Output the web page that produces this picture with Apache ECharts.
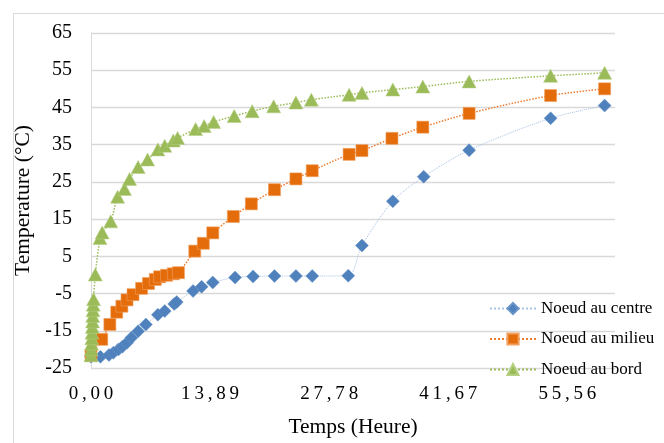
<!DOCTYPE html>
<html>
<head>
<meta charset="utf-8">
<script src="https://cdn.jsdelivr.net/npm/echarts@6/dist/echarts.min.js"></script>
<style>
  html, body { margin: 0; padding: 0; background: #ffffff; }
  #chart { width: 664px; height: 443px; }
</style>
</head>
<body>
<div id="chart"></div>
<script>
// Temps en heures, températures en °C
const centreTemps = [0, 1.1, 2.1, 2.6, 3.2, 3.65, 4.2, 4.7, 5.5, 6.4, 7.8, 8.6, 9.7, 10.0, 11.9, 12.9, 14.2, 16.8, 18.9, 21.4, 23.9, 25.8, 30.0, 31.6, 35.2, 38.8, 44.1, 53.6, 59.9];
const centreValeurs = [-22.0, -22.0, -21.5, -20.9, -20.0, -19.3, -18.2, -16.9, -15.1, -13.3, -10.7, -9.7, -7.8, -7.3, -4.3, -3.2, -2.0, -0.7, -0.4, -0.3, -0.3, -0.3, -0.2, 7.9, 19.8, 26.4, 33.5, 42.1, 45.5];

const milieuTemps = [0, 1.25, 2.2, 3.0, 3.6, 4.2, 4.9, 5.9, 6.7, 7.5, 8.0, 8.8, 9.6, 10.2, 12.1, 13.1, 14.2, 16.6, 18.7, 21.4, 23.9, 25.8, 30.1, 31.6, 35.1, 38.7, 44.1, 53.6, 59.9];
const milieuValeurs = [-21.6, -17.3, -13.3, -10.0, -8.4, -6.7, -5.3, -3.6, -2.3, -1.2, -0.5, -0.1, 0.3, 0.6, 6.4, 8.5, 11.3, 15.7, 19.1, 22.9, 25.8, 28.0, 32.4, 33.4, 36.7, 39.7, 43.4, 48.2, 50.0];

const bordTemps = [0, 0.03, 0.06, 0.09, 0.12, 0.15, 0.18, 0.2, 0.23, 0.26, 0.3, 0.5, 1.05, 1.3, 2.3, 3.1, 3.9, 4.5, 5.5, 6.6, 7.8, 8.6, 9.6, 10.1, 12.2, 13.2, 14.3, 16.7, 18.8, 21.3, 23.9, 25.7, 30.1, 31.6, 35.2, 38.7, 44.1, 53.6, 59.9];
const bordValeurs = [-21.6, -20.0, -18.5, -17.0, -15.5, -14.0, -12.5, -11.0, -9.5, -8.0, -6.5, 0.1, 9.9, 11.4, 14.4, 21.0, 23.1, 25.8, 29.0, 31.0, 33.7, 34.7, 36.1, 36.8, 39.2, 40.0, 41.1, 42.7, 44.0, 45.3, 46.3, 47.1, 48.4, 48.9, 49.8, 50.6, 52.0, 53.5, 54.3];

const nomsSeries = ['Noeud au centre', 'Noeud au milieu', 'Noeud au bord'];

// Graduations de l'axe des temps (pas de 50 000 s, affiché en heures)
const etiquettesTemps = ['0,00', '13,89', '27,78', '41,67', '55,56'];
const pasTemps = 50000 / 3600;
const maxTemps = 220000 / 3600;

const fonte = "Liberation Serif";
const gris = '#d9d9d9';

function paires(xs, ys) {
  return xs.map((x, i) => [x, ys[i]]);
}

const styleLegende = { fontFamily: fonte, fontSize: 17, color: '#000' };

const chart = echarts.init(document.getElementById('chart'), null, { renderer: 'canvas' });

chart.setOption({
  animation: false,
  backgroundColor: '#ffffff',
  textStyle: { fontFamily: fonte, color: '#000' },
  graphic: [{
    type: 'rect',
    left: 11, top: 11,
    shape: { width: 700, height: 500 },
    style: { fill: 'none', stroke: gris, lineWidth: 1 },
    silent: true, z: -10
  }],
  grid: { left: 91, right: 49, top: 33, bottom: 72.5, containLabel: false },
  xAxis: {
    type: 'value',
    min: 0,
    max: maxTemps,
    interval: pasTemps,
    name: 'Temps (Heure)',
    nameLocation: 'middle',
    nameGap: 48,
    nameTextStyle: { fontFamily: fonte, fontSize: 21.5, color: '#000' },
    axisLine: { show: false },
    axisTick: { show: false },
    splitLine: { show: false },
    axisLabel: {
      fontFamily: fonte, fontSize: 19, color: '#000', margin: 17,
      showMaxLabel: false,
      formatter: function (v) {
        const k = Math.round(v / pasTemps);
        if (Math.abs(v - k * pasTemps) > 1e-6 || k >= etiquettesTemps.length) return '';
        return etiquettesTemps[k].split('').join('\u2009');
      }
    }
  },
  yAxis: {
    type: 'value',
    min: -25,
    max: 65,
    interval: 10,
    name: 'Temperature (°C)',
    nameLocation: 'middle',
    nameGap: 50,
    nameRotate: 90,
    nameTextStyle: { fontFamily: fonte, fontSize: 21.5, color: '#000' },
    axisLine: { show: true, lineStyle: { color: gris, width: 1 } },
    axisTick: { show: false },
    splitLine: { show: true, lineStyle: { color: gris, width: 1.3 } },
    axisLabel: { fontFamily: fonte, fontSize: 20, color: '#000', margin: 19 }
  },
  legend: {
    orient: 'vertical',
    left: 489,
    top: 300,
    padding: 0,
    itemWidth: 46,
    itemHeight: 14,
    itemGap: 13.5,
    textStyle: styleLegende,
    data: nomsSeries.map(n => ({ name: n, textStyle: styleLegende }))
  },
  series: [
    {
      name: nomsSeries[0],
      type: 'line',
      data: paires(centreTemps, centreValeurs),
      smooth: 0.3,
      symbol: 'diamond',
      symbolSize: 13,
      itemStyle: { color: '#4F81BD', borderColor: '#6b95c8', borderWidth: 0.5 },
      lineStyle: { color: '#a8c3e4', width: 1, type: 'dotted' },
      z: 3
    },
    {
      name: nomsSeries[1],
      type: 'line',
      data: paires(milieuTemps, milieuValeurs),
      smooth: 0.3,
      symbol: 'rect',
      symbolSize: 12,
      itemStyle: { color: '#E46C0A', borderColor: '#f0a060', borderWidth: 0.6 },
      lineStyle: { color: '#ED7D31', width: 1.5, type: 'dotted' },
      z: 4
    },
    {
      name: nomsSeries[2],
      type: 'line',
      data: paires(bordTemps, bordValeurs),
      smooth: 0.3,
      symbol: 'triangle',
      symbolSize: [14, 13],
      itemStyle: { color: '#9BBB59', borderColor: '#b5cf83', borderWidth: 0.5 },
      lineStyle: { color: '#9BBB59', width: 1.5, type: 'dotted' },
      z: 5
    }
  ]
});
</script>
</body>
</html>
